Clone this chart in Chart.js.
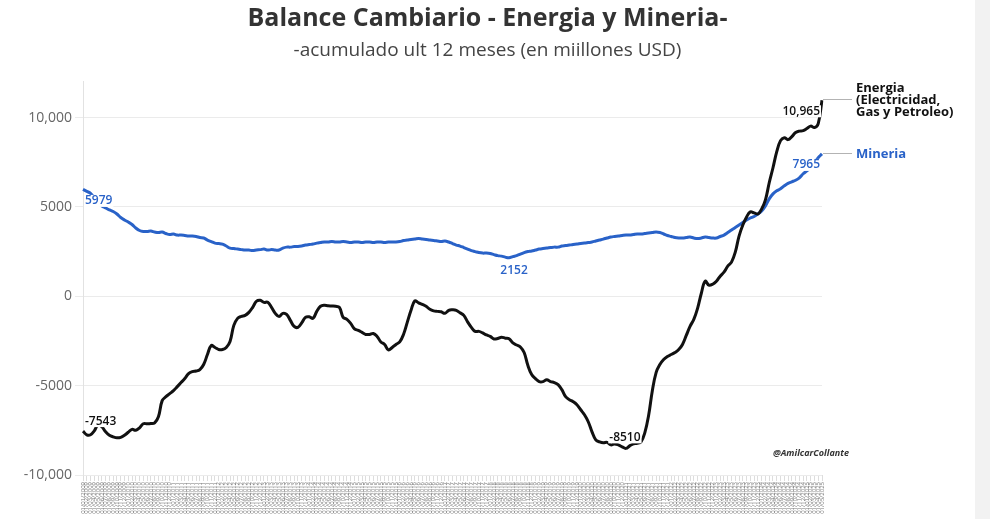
<!DOCTYPE html>
<html><head><meta charset="utf-8">
<script src="https://cdn.jsdelivr.net/npm/chart.js@4"></script>
<style>
html,body{margin:0;padding:0;background:#f2f2f2;}
#wrap{position:absolute;left:0;top:0;width:975px;height:519px;background:#fff;}
</style></head><body>
<div id="wrap"><canvas id="c" width="975" height="519"></canvas></div>
<script>
// ---- data ----
const startYear = 2009;
const monthCount = 197;
const categories = [];
for (let k = 0; k < monthCount; k++) {
  const m = k % 12 + 1;
  categories.push('01/' + (m < 10 ? '0' + m : m) + '/' + (startYear + Math.floor(k / 12)));
}
const energia = [
-7543,-7750,-7750,-7530,-7190,-7300,-7585,-7780,-7865,-7920,
-7895,-7780,-7610,-7445,-7500,-7360,-7135,-7135,-7120,-7080,
-6740,-5840,-5620,-5450,-5280,-5055,-4830,-4605,-4325,-4215,
-4185,-4100,-3820,-3260,-2755,-2865,-2980,-2980,-2865,-2530,
-1630,-1235,-1125,-1070,-900,-620,-280,-225,-340,-340,
-620,-955,-1125,-955,-1010,-1350,-1685,-1740,-1490,-1180,
-1150,-1235,-845,-560,-505,-535,-545,-560,-620,-1180,
-1290,-1515,-1825,-1910,-2020,-2135,-2135,-2080,-2245,-2555,
-2695,-3005,-2865,-2695,-2555,-2135,-1460,-785,-255,-365,
-450,-560,-730,-815,-845,-870,-955,-785,-760,-785,
-925,-1070,-1430,-1740,-1965,-1965,-2050,-2165,-2245,-2390,
-2360,-2290,-2345,-2375,-2610,-2725,-2835,-3145,-3875,-4380,
-4605,-4775,-4775,-4665,-4775,-4830,-4945,-5225,-5620,-5785,
-5900,-6070,-6350,-6630,-7020,-7585,-8035,-8145,-8200,-8175,
-8315,-8260,-8315,-8425,-8510,-8370,-8260,-8230,-8145,-7640,
-6685,-5280,-4270,-3820,-3540,-3370,-3260,-3145,-2980,-2695,
-2190,-1685,-1290,-675,170,845,620,675,845,1125,
1350,1685,1910,2470,3370,3990,4440,4720,4665,4605,
4890,5395,6350,7190,8090,8710,8875,8765,8935,9160,
9240,9270,9385,9520,9440,9665,10965
];
const mineria = [
5979,5870,5760,5505,5225,5055,4945,4830,4745,4605,
4410,4270,4155,4015,3820,3680,3625,3625,3650,3595,
3565,3595,3510,3455,3485,3425,3425,3400,3370,3370,
3345,3285,3260,3145,3060,2975,2950,2920,2810,2695,
2670,2640,2610,2585,2585,2555,2585,2610,2640,2585,
2610,2585,2585,2695,2750,2750,2780,2780,2810,2865,
2895,2920,2975,3005,3035,3035,3060,3035,3035,3060,
3035,3005,3035,3035,3005,3035,3035,3005,3035,3035,
3005,3035,3035,3035,3060,3120,3145,3175,3200,3230,
3200,3175,3145,3120,3090,3060,3090,3035,2950,2865,
2810,2725,2640,2555,2500,2445,2415,2415,2390,2330,
2275,2245,2190,2152,2220,2275,2360,2445,2500,2530,
2585,2640,2670,2695,2725,2750,2750,2810,2835,2865,
2895,2920,2950,2975,3005,3035,3090,3145,3200,3260,
3315,3345,3370,3400,3425,3425,3455,3485,3485,3510,
3540,3565,3595,3565,3485,3400,3345,3285,3260,3260,
3285,3315,3260,3230,3260,3315,3285,3260,3260,3345,
3425,3565,3710,3850,3990,4130,4270,4380,4465,4605,
4775,5055,5450,5730,5900,6010,6180,6320,6405,6490,
6630,6855,7020,7190,7470,7755,7965
];
const seriesNames = [['Energia', '(Electricidad,', 'Gas y Petroleo)'], ['Mineria']];
const yTicks = [-10000, -5000, 0, 5000, 10000];
const titleText = 'Balance Cambiario - Energia y Mineria-';
const subtitleText = '-acumulado ult 12 meses (en miillones USD)';
const credit = '@AmilcarCollante';

// ---- styling ----
const BLACK = '#111111', BLUE = '#2962c8';
const fmt = v => Math.abs(v) >= 10000 ? v.toLocaleString('en-US') : String(v);

const pointLabels = [
  {ds: 1, idx: 0, align: 'left', dx: 2, dy: 11.5, color: BLUE},
  {ds: 1, idx: mineria.indexOf(Math.min(...mineria)), align: 'center', dx: 5, dy: 12.5, color: BLUE},
  {ds: 1, idx: mineria.length - 1, align: 'right', dx: -2, dy: 11, color: BLUE},
  {ds: 0, idx: 0, align: 'left', dx: 2, dy: -10, color: BLACK},
  {ds: 0, idx: energia.indexOf(Math.min(...energia)), align: 'center', dx: -1, dy: -11, color: BLACK},
  {ds: 0, idx: energia.length - 1, align: 'right', dx: -2, dy: 11, color: BLACK}
];

const overlay = {
  id: 'overlay',
  afterDatasetsDraw(chart) {
    const ctx = chart.ctx, ca = chart.chartArea;
    ctx.save();
    ctx.textBaseline = 'middle';
    ctx.font = '600 12px "Open Sans"';
    pointLabels.forEach(l => {
      const el = chart.getDatasetMeta(l.ds).data[l.idx];
      const txt = fmt(chart.data.datasets[l.ds].data[l.idx]);
      const w = ctx.measureText(txt).width;
      const x = el.x + l.dx, y = el.y + l.dy;
      const left = l.align === 'left' ? x : l.align === 'right' ? x - w : x - w / 2;
      ctx.fillStyle = '#fff';
      ctx.fillRect(left - 1, y - 6, w + 2, 12);
      ctx.fillStyle = l.color;
      ctx.textAlign = 'left';
      ctx.fillText(txt, left, y);
    });
    // series names with connectors
    const colors = [BLACK, BLUE];
    [0, 1].forEach(d => {
      const meta = chart.getDatasetMeta(d);
      const el = meta.data[meta.data.length - 1];
      const yy = Math.round(el.y) - 0.5;
      ctx.strokeStyle = '#b3b3b3';
      ctx.lineWidth = 1;
      ctx.beginPath();
      ctx.moveTo(el.x + 1, yy);
      ctx.lineTo(ca.right + 30, yy);
      ctx.stroke();
      ctx.fillStyle = colors[d];
      ctx.font = 'bold 13px "Open Sans"';
      ctx.textAlign = 'left';
      const lines = seriesNames[d];
      const lh = 12;
      lines.forEach((t, k) => {
        ctx.fillText(t, ca.right + 34, el.y + (k - (lines.length - 1) / 2) * lh);
      });
    });
    // credit
    ctx.fillStyle = '#333';
    ctx.font = 'italic bold 9px "Open Sans"';
    ctx.textAlign = 'left';
    ctx.fillText(credit, ca.right - 49, ca.bottom - 22);
    ctx.restore();
  }
};

new Chart(document.getElementById('c'), {
  type: 'line',
  data: {
    labels: categories,
    datasets: [
      {label: 'Energia', data: energia, borderColor: BLACK, borderWidth: 3, pointRadius: 0, tension: 0.4, fill: false},
      {label: 'Mineria', data: mineria, borderColor: BLUE, borderWidth: 3, pointRadius: 0, tension: 0.4, fill: false}
    ]
  },
  options: {
    responsive: false,
    devicePixelRatio: 1,
    animation: false,
    events: [],
    layout: {padding: 0},
    plugins: {
      legend: {display: false},
      tooltip: {enabled: false},
      title: {display: true, text: titleText, color: '#333', font: {family: 'Open Sans', size: 25, weight: 'bold'}, padding: {top: 4, bottom: 5}},
      subtitle: {display: true, text: subtitleText, color: '#444', font: {family: 'Open Sans', size: 19}, padding: {top: 0, bottom: 20}}
    },
    scales: {
      x: {
        ticks: {autoSkip: false, maxRotation: 90, minRotation: 90, color: '#777', font: {family: 'Open Sans', size: 6}, padding: 1},
        grid: {drawOnChartArea: false, tickLength: 6, color: '#dddddd'},
        border: {display: false},
        afterFit: s => { s.height = 44; }
      },
      y: {
        min: -10000, max: 12000,
        afterBuildTicks: s => { s.ticks = yTicks.map(v => ({value: v})); },
        ticks: {color: '#666', font: {family: 'Open Sans', size: 14}, padding: 3, callback: v => fmt(v)},
        grid: {color: '#ebebeb', tickLength: 8},
        border: {display: true, color: '#e2e2e2'},
        afterFit: s => { s.width = 83; }
      },
      spacer: {
        type: 'linear', position: 'right', display: true,
        grid: {display: false}, ticks: {display: false}, border: {display: false},
        afterFit: s => { s.width = 153; }
      }
    }
  },
  plugins: [overlay]
});
</script>
</body></html>
